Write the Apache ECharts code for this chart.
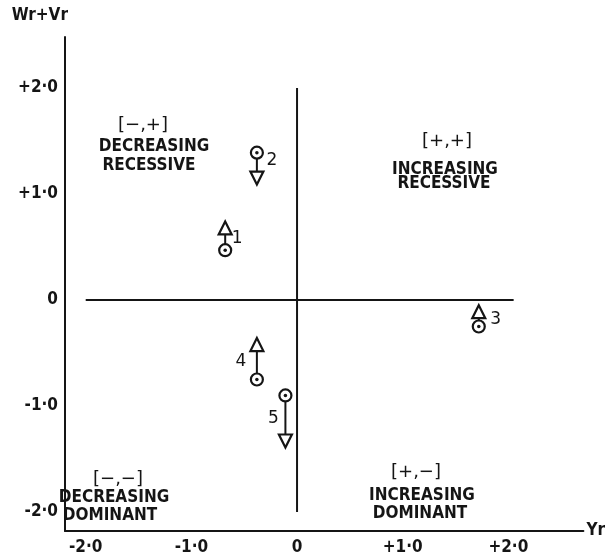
<!DOCTYPE html>
<html>
<head>
<meta charset="utf-8">
<script src="https://cdn.jsdelivr.net/npm/echarts@6/dist/echarts.min.js"></script>
<style>
  html, body { margin: 0; padding: 0; background: #fff; }
  #chart { width: 608px; height: 557px; }
</style>
</head>
<body>
<div id="chart"></div>
<script>
// Array numbers
const arrayIds = ['1', '2', '3', '4', '5'];
// Yr for each array
const yrValues = [-0.68, -0.38, 1.72, -0.38, -0.11];
// Wr+Vr: first estimate (circle) and second estimate (triangle)
const wrVrFrom = [0.47, 1.39, -0.25, -0.75, -0.90];
const wrVrTo = [0.68, 1.15, -0.11, -0.42, -1.33];

// Tick values and their printed labels
const xTickValues = [-2, -1, 0, 1, 2];
const xTickLabels = ['-2·0', '-1·0', '0', '+1·0', '+2·0'];
const yTickValues = [-2, -1, 0, 1, 2];
const yTickLabels = ['-2·0', '-1·0', '0', '+1·0', '+2·0'];

// Extent of the quadrant dividing lines
const crossXRange = [-2.0, 2.05];
const crossYRange = [-2.0, 2.0];

const INK = '#151515';
const FONT = '"DejaVu Sans", "Liberation Sans", sans-serif';
const CFONT = '"DejaVu Sans Condensed", "Liberation Sans Narrow", "DejaVu Sans", sans-serif';

const chart = echarts.init(document.getElementById('chart'), null, { renderer: 'canvas' });

const series = [];

// quadrant dividing lines
series.push({
  type: 'line', silent: true, symbol: 'none', z: 1,
  lineStyle: { color: INK, width: 2 },
  data: [[crossXRange[0], 0], [crossXRange[1], 0]]
});
series.push({
  type: 'line', silent: true, symbol: 'none', z: 1,
  lineStyle: { color: INK, width: 2 },
  data: [[0, crossYRange[0]], [0, crossYRange[1]]]
});

// shift of each array from circle to triangle
arrayIds.forEach((id, i) => {
  series.push({
    type: 'line', silent: true, symbol: 'none', z: 2,
    lineStyle: { color: INK, width: 2 },
    data: [[yrValues[i], wrVrFrom[i]], [yrValues[i], wrVrTo[i]]]
  });
});

// circles (start)
series.push({
  type: 'scatter', z: 3, symbol: 'circle', symbolSize: 12,
  itemStyle: { color: '#fff', borderColor: INK, borderWidth: 2.2, opacity: 1 },
  data: arrayIds.map((id, i) => [yrValues[i], wrVrFrom[i]])
});
// dots in circles
series.push({
  type: 'scatter', z: 4, symbol: 'circle', symbolSize: 3.5,
  itemStyle: { color: INK, opacity: 1 },
  data: arrayIds.map((id, i) => [yrValues[i], wrVrFrom[i]])
});
// triangles (end), pointing in the direction of change
series.push({
  type: 'scatter', z: 3, symbol: 'triangle', symbolSize: 13,
  itemStyle: { color: '#fff', borderColor: INK, borderWidth: 2.2, opacity: 1 },
  data: arrayIds.map((id, i) => ({
    value: [yrValues[i], wrVrTo[i]],
    symbolRotate: wrVrTo[i] < wrVrFrom[i] ? 180 : 0
  }))
});

// number labels beside each arrow
const labelSide = { '1': ['right', 6], '2': ['right', 9], '3': ['right', 11], '4': ['left', 10], '5': ['left', 6] };
const labelShift = { '1': 0, '2': -5, '3': 0, '4': 0, '5': 0 };
series.push({
  type: 'scatter', z: 5, symbolSize: 1, silent: true,
  itemStyle: { color: 'rgba(0,0,0,0)', opacity: 1 },
  data: arrayIds.map((id, i) => ({
    value: [yrValues[i], (wrVrFrom[i] + wrVrTo[i]) / 2],
    label: {
      show: true, formatter: id,
      position: labelSide[id][0], distance: labelSide[id][1],
      offset: [0, labelShift[id]],
      fontFamily: FONT, fontSize: 17, color: INK, opacity: 1
    }
  }))
});

// quadrant captions
function caption(lines, cx, ys) {
  return lines.map((t, k) => ({
    type: 'text', z: 10,
    x: cx[k], y: ys[k],
    style: {
      text: t, fill: INK,
      font: k === 0 ? 'normal 18px ' + FONT : 'bold 17px ' + CFONT,
      align: 'center', verticalAlign: 'middle'
    }
  }));
}

const graphics = [].concat(
  caption(['[−,+]', 'DECREASING', 'RECESSIVE'], [143, 154, 149], [125, 147, 166]),
  caption(['[+,+]', 'INCREASING', 'RECESSIVE'], [447, 445, 444], [141, 170, 184]),
  caption(['[−,−]', 'DECREASING', 'DOMINANT'], [118, 114, 110], [479, 498, 516]),
  caption(['[+,−]', 'INCREASING', 'DOMINANT'], [416, 422, 420], [472, 496, 514])
);

chart.setOption({
  animation: false,
  backgroundColor: '#fff',
  grid: { left: 65, right: 18, top: 37, bottom: 26, containLabel: false },
  xAxis: {
    type: 'value',
    min: -2.196, max: 2.71,
    name: 'Yr', nameLocation: 'end', nameGap: 3,
    nameTextStyle: { fontFamily: CFONT, fontSize: 17, color: INK, fontWeight: 'bold', verticalAlign: 'middle' },
    axisLine: { show: true, onZero: false, lineStyle: { color: INK, width: 2 } },
    axisTick: { show: false },
    splitLine: { show: false },
    axisLabel: {
      customValues: xTickValues,
      formatter: v => xTickLabels[xTickValues.indexOf(Math.round(v))],
      fontFamily: CFONT, fontSize: 17, fontWeight: 'bold', color: INK, margin: 8
    }
  },
  yAxis: {
    type: 'value',
    min: -2.179, max: 2.481,
    name: 'Wr+Vr', nameLocation: 'end', nameGap: 13,
    nameTextStyle: { fontFamily: CFONT, fontSize: 17, color: INK, fontWeight: 'bold', align: 'right', padding: [0, -3, 0, 0] },
    axisLine: { show: true, onZero: false, lineStyle: { color: INK, width: 2 } },
    axisTick: { show: false },
    splitLine: { show: false },
    axisLabel: {
      customValues: yTickValues,
      formatter: v => yTickLabels[yTickValues.indexOf(Math.round(v))],
      fontFamily: CFONT, fontSize: 17, fontWeight: 'bold', color: INK, margin: 7
    }
  },
  series: series,
  graphic: graphics
});
</script>
</body>
</html>
